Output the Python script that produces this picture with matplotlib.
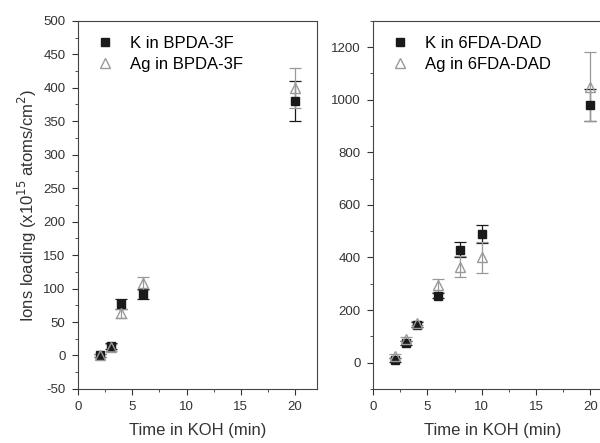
import numpy as np
import matplotlib.pyplot as plt
from matplotlib.ticker import MultipleLocator

plt.rcParams['font.family'] = ['Liberation Sans', 'DejaVu Sans']
plt.rcParams['axes.unicode_minus'] = False

# BPDA-3F panel
t_left = [2, 3, 4, 6, 20]
k_left = [0, 14, 77, 92, 380]
k_left_err = [2, 4, 7, 7, 30]
ag_left = [0, 12, 63, 108, 400]
ag_left_err = [2, 5, 7, 10, 30]

# 6FDA-DAD panel
t_right = [2, 3, 4, 6, 8, 10, 20]
k_right = [10, 75, 145, 255, 430, 490, 980]
k_right_err = [8, 8, 8, 10, 30, 35, 60]
ag_right = [25, 90, 150, 295, 365, 400, 1050]
ag_right_err = [8, 8, 8, 25, 40, 60, 130]

fig = plt.figure(figsize=(6, 4.43), dpi=100)
ax1 = fig.add_axes([0.13, 0.122, 0.398, 0.831])
ax2 = fig.add_axes([0.622, 0.122, 0.398, 0.831])

dark = '#1a1a1a'
gray = '#999999'

def panel(ax, t, k, kerr, ag, agerr, name):
    ax.errorbar(t, k, yerr=kerr, fmt='s', color=dark, ms=6, capsize=4,
                elinewidth=0.9, capthick=0.9, label='K in ' + name)
    ax.errorbar(t, ag, yerr=agerr, fmt='^', mfc='none', mec=gray, color=gray,
                ms=7.5, capsize=4, elinewidth=0.9, capthick=0.9,
                label='Ag in ' + name)
    ax.set_xlim(0, 22)
    ax.xaxis.set_major_locator(MultipleLocator(5))
    ax.xaxis.set_minor_locator(MultipleLocator(2.5))
    ax.tick_params(which='both', direction='out', colors='#333333',
                   labelsize=9.5, pad=5)
    ax.tick_params(which='major', length=4)
    ax.tick_params(which='minor', length=2.5)
    for s in ax.spines.values():
        s.set_color('#444444')
    ax.set_xlabel('Time in KOH (min)', fontsize=12, color='#333333',
                  labelpad=7)
    h, l = ax.get_legend_handles_labels()
    h = [x[0] for x in h]
    ax.legend(h, l, loc='upper left', frameon=False, fontsize=12,
              handletextpad=0.8, borderaxespad=0.5, labelspacing=0.35,
              handlelength=1.4)

panel(ax1, t_left, k_left, k_left_err, ag_left, ag_left_err, 'BPDA-3F')
ax1.set_ylim(-50, 500)
ax1.yaxis.set_major_locator(MultipleLocator(50))
ax1.yaxis.set_minor_locator(MultipleLocator(25))
ax1.set_ylabel('Ions loading (x10$^{15}$ atoms/cm$^2$)', fontsize=12,
               color='#333333', labelpad=3)

panel(ax2, t_right, k_right, k_right_err, ag_right, ag_right_err, '6FDA-DAD')
ax2.set_ylim(-100, 1300)
ax2.yaxis.set_major_locator(MultipleLocator(200))
ax2.yaxis.set_minor_locator(MultipleLocator(100))

fig.savefig('out.png', dpi=100)
